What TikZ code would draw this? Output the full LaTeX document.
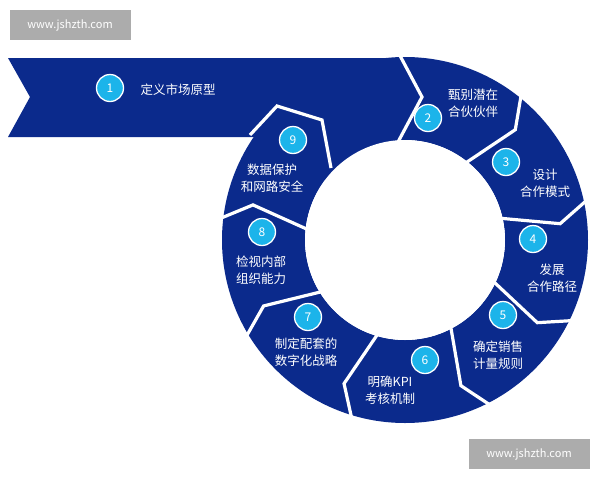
\documentclass[tikz,border=0pt]{standalone}
\usepackage{fontspec}
\usetikzlibrary{calc}
\setmainfont{Noto Sans CJK SC}
\begin{document}
\begin{tikzpicture}[x=1pt,y=-1pt,
  sep/.style={white,line width=3.2pt,line join=miter},
  num/.style={circle,fill=numc,draw=white,line width=1.3pt,minimum size=27pt,inner sep=0pt,text=white,font=\fontsize{12}{12}\selectfont},
  lbl/.style={text=white,align=center,font=\fontsize{12.5}{17}\selectfont},
  wm/.style={fill=gray!65,text=white,font=\fontsize{11}{11}\selectfont,minimum width=121pt,minimum height=30pt,inner sep=0pt}]
\definecolor{blu}{HTML}{0B2A8C}
\definecolor{numc}{HTML}{1CB4EA}
\useasboundingbox (0,0) rectangle (600,480);
\coordinate (c) at (405,240);
% ring and banner
\fill[blu,even odd rule] (c) circle[radius=183] (c) circle[radius=100];
\fill[blu] (8,58) -- (400,58) -- (400,137) -- (8,137) -- (30,97) -- cycle;
\fill[blu] (300,137) rectangle (400,180);
\fill[white] (c) circle[radius=100];
% separators
\draw[sep] (397,50) -- (422,97) -- (398,142);
\draw[sep] (250,135) -- (277,106) -- (322,120) -- (331,168);
\foreach \a in {-52,-13,25,62,106,148,186}{
  \draw[sep] ($(c)+(\a:190)$) -- ($(c)+(\a+7:156)$) -- ($(c)+(\a:97)$);
}
% numbers and labels
\node[num] (n1) at (110,88) {1};
\node[lbl,anchor=west] (t1) at (137,90) {定义市场原型};
\node[num] (n2) at (428,118) {2};
\node[lbl] (t2) at (473,103) {甄别潜在\\合伙伙伴};
\node[num] (n3) at (506,162) {3};
\node[lbl] (t3) at (545,183) {设计\\合作模式};
\node[num] (n4) at (533,239) {4};
\node[lbl] (t4) at (552,278) {发展\\合作路径};
\node[num] (n5) at (503,315) {5};
\node[lbl] (t5) at (498,355) {确定销售\\计量规则};
\node[num] (n6) at (425,360) {6};
\node[lbl] (t6) at (390,390) {明确KPI\\考核机制};
\node[num] (n7) at (308,317) {7};
\node[lbl] (t7) at (306,352) {制定配套的\\数字化战略};
\node[num] (n8) at (262,232) {8};
\node[lbl] (t8) at (261,270) {检视内部\\组织能力};
\node[num] (n9) at (293,140) {9};
\node[lbl] (t9) at (272,178) {数据保护\\和网路安全};
% watermarks
\node[wm] (w1) at (70,25) {www.jshzth.com};
\node[wm] (w2) at (529,454) {www.jshzth.com};
\end{tikzpicture}
\end{document}
